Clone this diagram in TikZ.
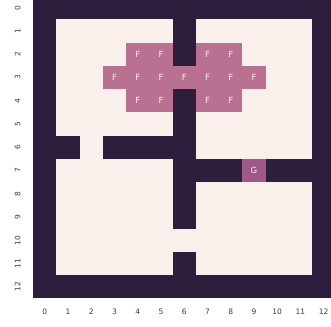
\documentclass[tikz,border=0pt]{standalone}
\usepackage{fontspec}
\setmainfont{DejaVu Sans}
\definecolor{wallc}{HTML}{2D1E3E}
\definecolor{floorc}{HTML}{FAF0EB}
\definecolor{firec}{HTML}{B97091}
\definecolor{goalc}{HTML}{A0588A}
\definecolor{tickc}{HTML}{3A3A3A}
\begin{document}
\begin{tikzpicture}[x=1pt,y=-1pt,
  celltext/.style={text=floorc,font=\fontsize{8.5}{9}\selectfont,inner sep=0pt},
  ticklab/.style={text=tickc,font=\fontsize{7.5}{8}\selectfont,inner sep=0pt}]
\def\ox{33.1}\def\oy{-3.9}\def\cs{23.25}
\useasboundingbox (0,0) rectangle (331,326);
\clip (0,0) rectangle (331,326);
% walls
\fill[wallc] (\ox,\oy) rectangle ({\ox+13*\cs},{\oy+13*\cs});
% floor regions: c1 r1 c2 r2 (inclusive)
\foreach \ca/\ra/\cb/\rb in {1/1/5/5, 7/1/11/6, 2/6/2/6, 1/7/5/11, 7/8/11/11, 6/10/6/10}{
  \fill[floorc] ({\ox+\ca*\cs},{\oy+\ra*\cs}) rectangle ({\ox+(\cb+1)*\cs},{\oy+(\rb+1)*\cs});
}
% F cells
\foreach \r/\c [count=\i] in {2/4,2/5,2/7,2/8,3/3,3/4,3/5,3/6,3/7,3/8,3/9,4/4,4/5,4/7,4/8}{
  \fill[firec] ({\ox+\c*\cs},{\oy+\r*\cs}) rectangle +(\cs,\cs);
  \node[celltext] (f\i) at ({\ox+(\c+0.5)*\cs},{\oy+(\r+0.5)*\cs}) {F};
}
% goal
\fill[goalc] ({\ox+9*\cs},{\oy+7*\cs}) rectangle +(\cs,\cs);
\node[celltext] (g) at ({\ox+9.5*\cs},{\oy+7.5*\cs}) {G};
% ticks
\foreach \k in {0,...,12}{
  \node[ticklab,rotate=90] (yl\k) at (17.7,{\oy+(\k+0.5)*\cs}) {\k};
  \node[ticklab] (xl\k) at ({\ox+(\k+0.5)*\cs},311.7) {\k};
}
\end{tikzpicture}
\end{document}
